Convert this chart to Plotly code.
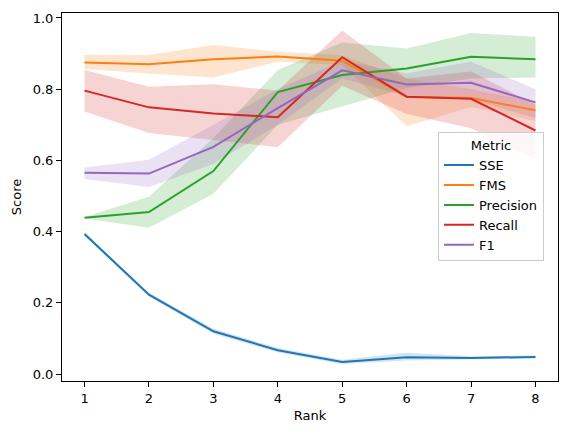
import plotly.graph_objects as go

ranks = [1, 2, 3, 4, 5, 6, 7, 8]
metrics = ['SSE', 'FMS', 'Precision', 'Recall', 'F1']
colors = ['#1f77b4', '#ff7f0e', '#2ca02c', '#d62728', '#9467bd']
band_colors = ['rgba(31,119,180,0.2)', 'rgba(255,127,14,0.2)', 'rgba(44,160,44,0.2)',
               'rgba(214,39,40,0.2)', 'rgba(148,103,189,0.2)']

# mean line values per metric
sse_mean = [0.393, 0.223, 0.120, 0.067, 0.034, 0.047, 0.045, 0.048]
fms_mean = [0.875, 0.870, 0.884, 0.892, 0.880, 0.779, 0.775, 0.741]
prec_mean = [0.439, 0.455, 0.570, 0.792, 0.840, 0.858, 0.891, 0.884]
rec_mean = [0.796, 0.749, 0.732, 0.721, 0.890, 0.779, 0.773, 0.684]
f1_mean = [0.565, 0.563, 0.638, 0.747, 0.853, 0.813, 0.818, 0.763]

# confidence band limits
sse_lo = [0.388, 0.218, 0.113, 0.061, 0.028, 0.038, 0.040, 0.044]
sse_hi = [0.398, 0.228, 0.127, 0.073, 0.040, 0.060, 0.050, 0.052]
fms_lo = [0.857, 0.844, 0.833, 0.877, 0.868, 0.696, 0.750, 0.710]
fms_hi = [0.896, 0.896, 0.924, 0.905, 0.895, 0.830, 0.800, 0.765]
prec_lo = [0.437, 0.411, 0.506, 0.700, 0.751, 0.803, 0.830, 0.833]
prec_hi = [0.441, 0.498, 0.663, 0.854, 0.931, 0.914, 0.958, 0.947]
rec_lo = [0.737, 0.677, 0.658, 0.637, 0.810, 0.730, 0.690, 0.603]
rec_hi = [0.854, 0.807, 0.814, 0.796, 0.965, 0.830, 0.850, 0.757]
f1_lo = [0.548, 0.525, 0.590, 0.700, 0.830, 0.780, 0.770, 0.719]
f1_hi = [0.580, 0.602, 0.700, 0.800, 0.880, 0.845, 0.877, 0.800]

means = [sse_mean, fms_mean, prec_mean, rec_mean, f1_mean]
lows = [sse_lo, fms_lo, prec_lo, rec_lo, f1_lo]
highs = [sse_hi, fms_hi, prec_hi, rec_hi, f1_hi]

fig = go.Figure()

# bands first so lines sit on top
for i, name in enumerate(metrics):
    fig.add_trace(go.Scatter(
        x=ranks + ranks[::-1],
        y=highs[i] + lows[i][::-1],
        fill='toself', fillcolor=band_colors[i],
        line=dict(width=0), mode='lines',
        hoverinfo='skip', showlegend=False))

for i, name in enumerate(metrics):
    fig.add_trace(go.Scatter(
        x=ranks, y=means[i], mode='lines', name=name,
        line=dict(color=colors[i], width=2)))

axis_style = dict(showgrid=False, zeroline=False, showline=True, linecolor='black',
                  linewidth=1, mirror=True, ticks='outside', ticklen=5,
                  tickcolor='black', tickfont=dict(size=13, color='black'))

fig.update_xaxes(range=[0.65, 8.35], tickvals=ranks,
                 title=dict(text='Rank', font=dict(size=13, color='black'), standoff=6),
                 **axis_style)
fig.update_yaxes(range=[-0.0196, 1.014], tickvals=[0.0, 0.2, 0.4, 0.6, 0.8, 1.0],
                 tickformat='.1f',
                 title=dict(text='Score', font=dict(size=13, color='black'), standoff=8),
                 **axis_style)

# page body has an 8px margin, so the margins are offset to keep the axes in place
fig.update_layout(
    width=567, height=434,
    margin=dict(l=54, r=17, t=3, b=61),
    plot_bgcolor='white', paper_bgcolor='white',
    font=dict(family='DejaVu Sans', color='black'),
    legend=dict(x=0.758, y=0.676, xanchor='left', yanchor='top',
                title=dict(text='Metric', side='top center', font=dict(size=13)),
                font=dict(size=13), bgcolor='rgba(255,255,255,0.8)',
                bordercolor='#cccccc', borderwidth=1, tracegroupgap=0),
)

fig.write_html("out.html")
